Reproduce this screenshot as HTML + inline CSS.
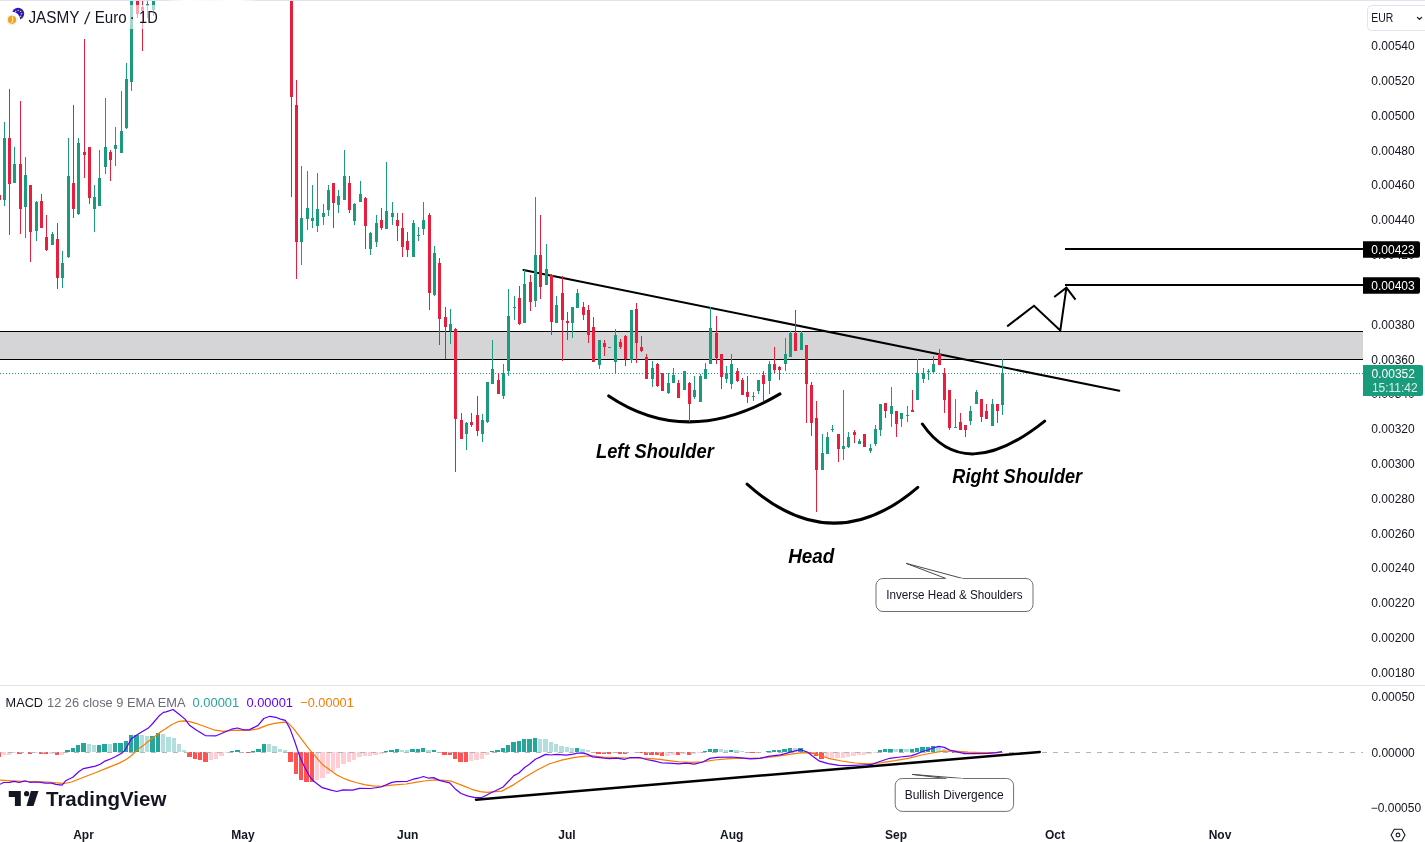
<!DOCTYPE html><html><head><meta charset="utf-8"><title>JASMY / Euro</title><style>
html,body{margin:0;padding:0;background:#fff;width:1425px;height:842px;overflow:hidden}
svg{display:block;position:absolute;left:0;top:0}
text{font-family:"Liberation Sans", Arial, sans-serif}
</style></head><body>
<svg width="1425" height="842" viewBox="0 0 1425 842">
<defs><clipPath id="mc"><rect x="0" y="1" width="1363" height="684"/></clipPath>
<clipPath id="pc"><rect x="0" y="686" width="1363" height="131"/></clipPath></defs>
<linearGradient id="tb" gradientUnits="userSpaceOnUse" x1="0" y1="0" x2="1425" y2="0"><stop offset="0.115" stop-color="#e0e3eb"/><stop offset="0.13" stop-color="#fff"/><stop offset="0.15" stop-color="#f7f8fa"/><stop offset="0.16" stop-color="#fff"/><stop offset="0.168" stop-color="#fff"/><stop offset="0.182" stop-color="#e0e3eb"/></linearGradient>
<rect x="0" y="0" width="1425" height="1" fill="url(#tb)"/>
<g clip-path="url(#mc)">
<rect x="0" y="331" width="1363" height="29" fill="#d5d5d8"/>
<rect x="0" y="331" width="1363" height="1" fill="#000"/>
<rect x="0" y="359" width="1363" height="1" fill="#000"/>
<line x1="0" y1="373.5" x2="1363" y2="373.5" stroke="#1a9b7b" stroke-width="1" stroke-dasharray="1 2"/>
<rect x="1065" y="248" width="298" height="2" fill="#000"/>
<rect x="1065" y="284" width="298" height="2" fill="#000"/>
<line x1="523.4" y1="270" x2="1119.3" y2="390.8" stroke="#000" stroke-width="2" stroke-linecap="round"/>
<polyline points="1007.2,326.4 1034,305.8 1060.3,330.4 1066.4,287.6" fill="none" stroke="#000" stroke-width="2" stroke-linejoin="miter"/>
<polyline points="1054.2,297 1066.4,287.6 1075.5,299.7" fill="none" stroke="#000" stroke-width="2"/>
<path d="M608.7 395.9 Q687.3 448.8 780 393.9" fill="none" stroke="#000" stroke-width="3" stroke-linecap="round"/>
<path d="M747.1 484.1 Q832.3 560.6 917.8 487.3" fill="none" stroke="#000" stroke-width="3" stroke-linecap="round"/>
<path d="M922.4 424 Q964.4 485.2 1044.7 421.1" fill="none" stroke="#000" stroke-width="3" stroke-linecap="round"/>
<g font-weight="bold" font-style="italic" font-size="20" fill="#000">
<text x="596" y="457.7" textLength="117.8" lengthAdjust="spacingAndGlyphs">Left Shoulder</text>
<text x="788.2" y="562.6" textLength="46.2" lengthAdjust="spacingAndGlyphs">Head</text>
<text x="952.3" y="482.6" textLength="129.8" lengthAdjust="spacingAndGlyphs">Right Shoulder</text>
</g>
<path d="M946 578.5 L906 563.3 L962.7 578.5" fill="none" stroke="#4a4a4a" stroke-width="1"/>
<path d="M962.7 578.5 H1026 a7 7 0 0 1 7 7 V604.5 a7 7 0 0 1 -7 7 H883 a7 7 0 0 1 -7 -7 V585.5 a7 7 0 0 1 7 -7 H946" fill="#fff" stroke="#707070" stroke-width="1"/>
<text x="886.3" y="598.7" font-size="12" textLength="136.3" lengthAdjust="spacingAndGlyphs" fill="#131722">Inverse Head &amp; Shoulders</text>
</g><g clip-path="url(#mc)" shape-rendering="crispEdges">
<rect x="-1" y="190" width="1" height="13" fill="#e91e3d"/>
<rect x="-2" y="195" width="3" height="5" fill="#e91e3d"/>
<rect x="4" y="121.8" width="1" height="84.3" fill="#1a9b7b"/>
<rect x="3" y="138" width="3" height="62.2" fill="#1a9b7b"/>
<rect x="9" y="89" width="1" height="146.4" fill="#e91e3d"/>
<rect x="8" y="138" width="3" height="46.3" fill="#e91e3d"/>
<rect x="14" y="147" width="1" height="35.8" fill="#1a9b7b"/>
<rect x="13" y="164" width="3" height="18.6" fill="#1a9b7b"/>
<rect x="20" y="101.4" width="1" height="132.9" fill="#e91e3d"/>
<rect x="19" y="164" width="3" height="45.1" fill="#e91e3d"/>
<rect x="25" y="157" width="1" height="80.5" fill="#1a9b7b"/>
<rect x="24" y="175.3" width="3" height="31.9" fill="#1a9b7b"/>
<rect x="30" y="185" width="1" height="77.3" fill="#e91e3d"/>
<rect x="29" y="185" width="3" height="46.6" fill="#e91e3d"/>
<rect x="36" y="201" width="1" height="40.4" fill="#1a9b7b"/>
<rect x="35" y="202" width="3" height="29.2" fill="#1a9b7b"/>
<rect x="41" y="194" width="1" height="34.3" fill="#e91e3d"/>
<rect x="40" y="201" width="3" height="27.1" fill="#e91e3d"/>
<rect x="46" y="215" width="1" height="35.5" fill="#e91e3d"/>
<rect x="45" y="236.7" width="3" height="13.6" fill="#e91e3d"/>
<rect x="52" y="232" width="1" height="13.3" fill="#1a9b7b"/>
<rect x="51" y="234" width="3" height="11.1" fill="#1a9b7b"/>
<rect x="57" y="222.8" width="1" height="66.4" fill="#e91e3d"/>
<rect x="56" y="238.7" width="3" height="39.5" fill="#e91e3d"/>
<rect x="62" y="251" width="1" height="37.4" fill="#1a9b7b"/>
<rect x="61" y="262.8" width="3" height="15.4" fill="#1a9b7b"/>
<rect x="68" y="138" width="1" height="119.6" fill="#1a9b7b"/>
<rect x="67" y="175.8" width="3" height="81.6" fill="#1a9b7b"/>
<rect x="73" y="105.3" width="1" height="113.1" fill="#e91e3d"/>
<rect x="72" y="183" width="3" height="26.1" fill="#e91e3d"/>
<rect x="78" y="138" width="1" height="76.5" fill="#1a9b7b"/>
<rect x="77" y="142.7" width="3" height="71.6" fill="#1a9b7b"/>
<rect x="84" y="38.8" width="1" height="139.4" fill="#e91e3d"/>
<rect x="83" y="151.8" width="3" height="3.2" fill="#e91e3d"/>
<rect x="89" y="147" width="1" height="56.8" fill="#e91e3d"/>
<rect x="88" y="147" width="3" height="51.1" fill="#e91e3d"/>
<rect x="94" y="185" width="1" height="47.2" fill="#1a9b7b"/>
<rect x="93" y="197" width="3" height="12.1" fill="#1a9b7b"/>
<rect x="99" y="150" width="1" height="55.8" fill="#1a9b7b"/>
<rect x="98" y="178" width="3" height="27.6" fill="#1a9b7b"/>
<rect x="105" y="98.3" width="1" height="75.2" fill="#1a9b7b"/>
<rect x="104" y="147" width="3" height="20.3" fill="#1a9b7b"/>
<rect x="110" y="150" width="1" height="30.5" fill="#e91e3d"/>
<rect x="109" y="151.8" width="3" height="8.4" fill="#e91e3d"/>
<rect x="115" y="127" width="1" height="39.4" fill="#1a9b7b"/>
<rect x="114" y="144.8" width="3" height="4.2" fill="#1a9b7b"/>
<rect x="121" y="91" width="1" height="62.4" fill="#1a9b7b"/>
<rect x="120" y="131" width="3" height="22.2" fill="#1a9b7b"/>
<rect x="126" y="63" width="1" height="65.5" fill="#1a9b7b"/>
<rect x="125" y="79" width="3" height="49.3" fill="#1a9b7b"/>
<rect x="131" y="-5" width="1" height="95.7" fill="#1a9b7b"/>
<rect x="130" y="-5" width="3" height="87.3" fill="#1a9b7b"/>
<rect x="137" y="-5" width="1" height="22.9" fill="#e91e3d"/>
<rect x="136" y="-5" width="3" height="18.7" fill="#e91e3d"/>
<rect x="142" y="-5" width="1" height="55.7" fill="#e91e3d"/>
<rect x="141" y="7.2" width="3" height="4.1" fill="#e91e3d"/>
<rect x="147" y="-5" width="1" height="22.9" fill="#1a9b7b"/>
<rect x="146" y="4.2" width="3" height="1.8" fill="#1a9b7b"/>
<rect x="153" y="-5" width="1" height="20.5" fill="#1a9b7b"/>
<rect x="152" y="-5" width="3" height="14.5" fill="#1a9b7b"/>
<rect x="291" y="-5" width="1" height="201.8" fill="#e91e3d"/>
<rect x="290" y="-5" width="3" height="102" fill="#e91e3d"/>
<rect x="296" y="80" width="1" height="199.3" fill="#e91e3d"/>
<rect x="295" y="104.8" width="3" height="137.4" fill="#e91e3d"/>
<rect x="301" y="166" width="1" height="99" fill="#1a9b7b"/>
<rect x="300" y="218.3" width="3" height="23.9" fill="#1a9b7b"/>
<rect x="307" y="171.2" width="1" height="59" fill="#1a9b7b"/>
<rect x="306" y="208.3" width="3" height="11.1" fill="#1a9b7b"/>
<rect x="312" y="185" width="1" height="42.9" fill="#1a9b7b"/>
<rect x="311" y="217.7" width="3" height="3.4" fill="#1a9b7b"/>
<rect x="317" y="173.2" width="1" height="59" fill="#1a9b7b"/>
<rect x="316" y="208.9" width="3" height="17" fill="#1a9b7b"/>
<rect x="323" y="204" width="1" height="21.1" fill="#1a9b7b"/>
<rect x="322" y="213.2" width="3" height="4.2" fill="#1a9b7b"/>
<rect x="328" y="185" width="1" height="30.9" fill="#1a9b7b"/>
<rect x="327" y="190.3" width="3" height="19.9" fill="#1a9b7b"/>
<rect x="333" y="183.2" width="1" height="44.7" fill="#e91e3d"/>
<rect x="332" y="183.2" width="3" height="19.9" fill="#e91e3d"/>
<rect x="338" y="190.3" width="1" height="22.8" fill="#1a9b7b"/>
<rect x="337" y="195.5" width="3" height="9.6" fill="#1a9b7b"/>
<rect x="344" y="150.4" width="1" height="49.9" fill="#1a9b7b"/>
<rect x="343" y="176" width="3" height="24.3" fill="#1a9b7b"/>
<rect x="349" y="176" width="1" height="37.1" fill="#e91e3d"/>
<rect x="348" y="183.2" width="3" height="27" fill="#e91e3d"/>
<rect x="354" y="202.6" width="1" height="22.5" fill="#1a9b7b"/>
<rect x="353" y="204" width="3" height="17.1" fill="#1a9b7b"/>
<rect x="360" y="181.2" width="1" height="21.1" fill="#1a9b7b"/>
<rect x="359" y="194" width="3" height="8.3" fill="#1a9b7b"/>
<rect x="365" y="196.9" width="1" height="52.4" fill="#e91e3d"/>
<rect x="364" y="198.3" width="3" height="27.6" fill="#e91e3d"/>
<rect x="370" y="232" width="1" height="23.3" fill="#1a9b7b"/>
<rect x="369" y="232.6" width="3" height="16.7" fill="#1a9b7b"/>
<rect x="376" y="215.4" width="1" height="31.1" fill="#1a9b7b"/>
<rect x="375" y="223.1" width="3" height="19.1" fill="#1a9b7b"/>
<rect x="381" y="208.3" width="1" height="21.9" fill="#e91e3d"/>
<rect x="380" y="220.3" width="3" height="7.9" fill="#e91e3d"/>
<rect x="386" y="161.8" width="1" height="67" fill="#1a9b7b"/>
<rect x="385" y="211.2" width="3" height="17.6" fill="#1a9b7b"/>
<rect x="392" y="202" width="1" height="23.1" fill="#1a9b7b"/>
<rect x="391" y="213.2" width="3" height="4.2" fill="#1a9b7b"/>
<rect x="397" y="213.2" width="1" height="27.8" fill="#e91e3d"/>
<rect x="396" y="220.3" width="3" height="5.6" fill="#e91e3d"/>
<rect x="402" y="213.2" width="1" height="43.3" fill="#e91e3d"/>
<rect x="401" y="228.3" width="3" height="19" fill="#e91e3d"/>
<rect x="407" y="232" width="1" height="24.5" fill="#e91e3d"/>
<rect x="406" y="241.1" width="3" height="9.1" fill="#e91e3d"/>
<rect x="413" y="220.3" width="1" height="36.2" fill="#1a9b7b"/>
<rect x="412" y="223.1" width="3" height="33.4" fill="#1a9b7b"/>
<rect x="418" y="227.4" width="1" height="13.6" fill="#1a9b7b"/>
<rect x="417" y="234.8" width="3" height="1.2" fill="#1a9b7b"/>
<rect x="423" y="202" width="1" height="33.1" fill="#1a9b7b"/>
<rect x="422" y="220.3" width="3" height="8.5" fill="#1a9b7b"/>
<rect x="429" y="213.2" width="1" height="96.3" fill="#e91e3d"/>
<rect x="428" y="215.4" width="3" height="77.1" fill="#e91e3d"/>
<rect x="434" y="246.2" width="1" height="50" fill="#1a9b7b"/>
<rect x="433" y="253.1" width="3" height="41.7" fill="#1a9b7b"/>
<rect x="439" y="258.2" width="1" height="86.9" fill="#e91e3d"/>
<rect x="438" y="262.8" width="3" height="55.7" fill="#e91e3d"/>
<rect x="445" y="307.1" width="1" height="52" fill="#e91e3d"/>
<rect x="444" y="316.9" width="3" height="10.5" fill="#e91e3d"/>
<rect x="450" y="309.2" width="1" height="34.4" fill="#1a9b7b"/>
<rect x="449" y="324" width="3" height="7.3" fill="#1a9b7b"/>
<rect x="455" y="327.9" width="1" height="143.9" fill="#e91e3d"/>
<rect x="454" y="328.5" width="3" height="90.9" fill="#e91e3d"/>
<rect x="461" y="413.3" width="1" height="25.4" fill="#e91e3d"/>
<rect x="460" y="419.9" width="3" height="18.8" fill="#e91e3d"/>
<rect x="466" y="422.2" width="1" height="28.2" fill="#1a9b7b"/>
<rect x="465" y="423.4" width="3" height="10.2" fill="#1a9b7b"/>
<rect x="471" y="413.3" width="1" height="14" fill="#e91e3d"/>
<rect x="470" y="422.2" width="3" height="3.1" fill="#e91e3d"/>
<rect x="477" y="396.1" width="1" height="39.5" fill="#e91e3d"/>
<rect x="476" y="415.4" width="3" height="15.8" fill="#e91e3d"/>
<rect x="482" y="413.9" width="1" height="27.6" fill="#1a9b7b"/>
<rect x="481" y="419.9" width="3" height="13.7" fill="#1a9b7b"/>
<rect x="487" y="381.9" width="1" height="41.2" fill="#1a9b7b"/>
<rect x="486" y="381.9" width="3" height="39.8" fill="#1a9b7b"/>
<rect x="492" y="339.8" width="1" height="44.6" fill="#1a9b7b"/>
<rect x="491" y="368.5" width="3" height="15.9" fill="#1a9b7b"/>
<rect x="498" y="373.3" width="1" height="20.3" fill="#e91e3d"/>
<rect x="497" y="379.8" width="3" height="13.8" fill="#e91e3d"/>
<rect x="503" y="364.1" width="1" height="35.3" fill="#1a9b7b"/>
<rect x="502" y="373.3" width="3" height="22.3" fill="#1a9b7b"/>
<rect x="508" y="288.7" width="1" height="87.6" fill="#1a9b7b"/>
<rect x="507" y="316" width="3" height="55" fill="#1a9b7b"/>
<rect x="514" y="296" width="1" height="23.9" fill="#1a9b7b"/>
<rect x="513" y="306.5" width="3" height="1.2" fill="#1a9b7b"/>
<rect x="519" y="286.3" width="1" height="38.5" fill="#e91e3d"/>
<rect x="518" y="297.8" width="3" height="26.2" fill="#e91e3d"/>
<rect x="524" y="269.5" width="1" height="53" fill="#1a9b7b"/>
<rect x="523" y="284" width="3" height="38.5" fill="#1a9b7b"/>
<rect x="530" y="275.1" width="1" height="35.4" fill="#e91e3d"/>
<rect x="529" y="282.1" width="3" height="19.7" fill="#e91e3d"/>
<rect x="535" y="196.9" width="1" height="110" fill="#1a9b7b"/>
<rect x="534" y="255.1" width="3" height="46.2" fill="#1a9b7b"/>
<rect x="540" y="215" width="1" height="83.7" fill="#e91e3d"/>
<rect x="539" y="255.1" width="3" height="32.2" fill="#e91e3d"/>
<rect x="546" y="244" width="1" height="41.2" fill="#1a9b7b"/>
<rect x="545" y="269.3" width="3" height="15.9" fill="#1a9b7b"/>
<rect x="551" y="274.1" width="1" height="60.8" fill="#e91e3d"/>
<rect x="550" y="274.7" width="3" height="47.4" fill="#e91e3d"/>
<rect x="556" y="296.1" width="1" height="27.1" fill="#1a9b7b"/>
<rect x="555" y="305.4" width="3" height="17.8" fill="#1a9b7b"/>
<rect x="562" y="276.4" width="1" height="84.5" fill="#e91e3d"/>
<rect x="561" y="292.7" width="3" height="27.7" fill="#e91e3d"/>
<rect x="567" y="312" width="1" height="28" fill="#e91e3d"/>
<rect x="566" y="320.9" width="3" height="1.8" fill="#e91e3d"/>
<rect x="572" y="307" width="1" height="31.1" fill="#1a9b7b"/>
<rect x="571" y="307" width="3" height="16.4" fill="#1a9b7b"/>
<rect x="577" y="289.2" width="1" height="18.8" fill="#1a9b7b"/>
<rect x="576" y="292.7" width="3" height="15.3" fill="#1a9b7b"/>
<rect x="583" y="301.6" width="1" height="18.1" fill="#e91e3d"/>
<rect x="582" y="307" width="3" height="8.1" fill="#e91e3d"/>
<rect x="588" y="305.2" width="1" height="37.4" fill="#e91e3d"/>
<rect x="587" y="309.6" width="3" height="25.1" fill="#e91e3d"/>
<rect x="593" y="317.1" width="1" height="44.9" fill="#e91e3d"/>
<rect x="592" y="327.4" width="3" height="34.6" fill="#e91e3d"/>
<rect x="599" y="339.6" width="1" height="29.7" fill="#1a9b7b"/>
<rect x="598" y="340.2" width="3" height="24.7" fill="#1a9b7b"/>
<rect x="604" y="339.6" width="1" height="16.3" fill="#e91e3d"/>
<rect x="603" y="342.6" width="3" height="3.9" fill="#e91e3d"/>
<rect x="609" y="347" width="1" height="1" fill="#1a9b7b"/>
<rect x="608" y="347" width="3" height="1" fill="#1a9b7b"/>
<rect x="615" y="328.9" width="1" height="44.8" fill="#1a9b7b"/>
<rect x="614" y="334.9" width="3" height="27.1" fill="#1a9b7b"/>
<rect x="620" y="338.7" width="1" height="10.7" fill="#e91e3d"/>
<rect x="619" y="341.7" width="3" height="4.8" fill="#e91e3d"/>
<rect x="625" y="335.1" width="1" height="30.6" fill="#e91e3d"/>
<rect x="624" y="335.7" width="3" height="23.3" fill="#e91e3d"/>
<rect x="631" y="309.6" width="1" height="53.1" fill="#1a9b7b"/>
<rect x="630" y="309.9" width="3" height="49.6" fill="#1a9b7b"/>
<rect x="636" y="303" width="1" height="60.4" fill="#e91e3d"/>
<rect x="635" y="309.1" width="3" height="34.3" fill="#e91e3d"/>
<rect x="641" y="336" width="1" height="15.5" fill="#e91e3d"/>
<rect x="640" y="347" width="3" height="4" fill="#e91e3d"/>
<rect x="646" y="354.2" width="1" height="25" fill="#e91e3d"/>
<rect x="645" y="357" width="3" height="22.2" fill="#e91e3d"/>
<rect x="652" y="361.2" width="1" height="25.6" fill="#1a9b7b"/>
<rect x="651" y="367.8" width="3" height="11.2" fill="#1a9b7b"/>
<rect x="657" y="362.9" width="1" height="23.9" fill="#e91e3d"/>
<rect x="656" y="363.7" width="3" height="22.4" fill="#e91e3d"/>
<rect x="662" y="372.8" width="1" height="17.8" fill="#e91e3d"/>
<rect x="661" y="373.2" width="3" height="17.4" fill="#e91e3d"/>
<rect x="668" y="372.8" width="1" height="21.2" fill="#1a9b7b"/>
<rect x="667" y="383.1" width="3" height="10" fill="#1a9b7b"/>
<rect x="673" y="367.8" width="1" height="15.3" fill="#1a9b7b"/>
<rect x="672" y="374.8" width="3" height="8.3" fill="#1a9b7b"/>
<rect x="678" y="380.2" width="1" height="17.6" fill="#e91e3d"/>
<rect x="677" y="382.8" width="3" height="15" fill="#e91e3d"/>
<rect x="684" y="371.2" width="1" height="18.6" fill="#1a9b7b"/>
<rect x="683" y="371.2" width="3" height="18.6" fill="#1a9b7b"/>
<rect x="689" y="381.8" width="1" height="39.9" fill="#e91e3d"/>
<rect x="688" y="383.1" width="3" height="20.8" fill="#e91e3d"/>
<rect x="694" y="376.2" width="1" height="22.8" fill="#1a9b7b"/>
<rect x="693" y="390.1" width="3" height="6.9" fill="#1a9b7b"/>
<rect x="700" y="373.7" width="1" height="28.1" fill="#1a9b7b"/>
<rect x="699" y="375.7" width="3" height="26.1" fill="#1a9b7b"/>
<rect x="705" y="362.9" width="1" height="16.1" fill="#1a9b7b"/>
<rect x="704" y="369" width="3" height="10" fill="#1a9b7b"/>
<rect x="710" y="307" width="1" height="56.7" fill="#1a9b7b"/>
<rect x="709" y="328.3" width="3" height="35.4" fill="#1a9b7b"/>
<rect x="716" y="315.8" width="1" height="47.9" fill="#e91e3d"/>
<rect x="715" y="332.9" width="3" height="25" fill="#e91e3d"/>
<rect x="721" y="354" width="1" height="34.6" fill="#e91e3d"/>
<rect x="720" y="354" width="3" height="22.8" fill="#e91e3d"/>
<rect x="726" y="366.2" width="1" height="16.6" fill="#1a9b7b"/>
<rect x="725" y="373.2" width="3" height="5.3" fill="#1a9b7b"/>
<rect x="731" y="354" width="1" height="34.6" fill="#1a9b7b"/>
<rect x="730" y="364" width="3" height="20" fill="#1a9b7b"/>
<rect x="737" y="368.2" width="1" height="13.6" fill="#e91e3d"/>
<rect x="736" y="370.7" width="3" height="10.5" fill="#e91e3d"/>
<rect x="742" y="378.2" width="1" height="16.6" fill="#e91e3d"/>
<rect x="741" y="379.8" width="3" height="15" fill="#e91e3d"/>
<rect x="747" y="376.2" width="1" height="26.6" fill="#e91e3d"/>
<rect x="746" y="392.3" width="3" height="4.5" fill="#e91e3d"/>
<rect x="753" y="392.3" width="1" height="8.3" fill="#1a9b7b"/>
<rect x="752" y="396" width="3" height="1.3" fill="#1a9b7b"/>
<rect x="758" y="380.2" width="1" height="13.8" fill="#1a9b7b"/>
<rect x="757" y="380.2" width="3" height="10.4" fill="#1a9b7b"/>
<rect x="763" y="371.2" width="1" height="29.9" fill="#e91e3d"/>
<rect x="762" y="374.8" width="3" height="9.2" fill="#e91e3d"/>
<rect x="769" y="361.2" width="1" height="32.8" fill="#1a9b7b"/>
<rect x="768" y="364" width="3" height="16.7" fill="#1a9b7b"/>
<rect x="774" y="346.9" width="1" height="26.3" fill="#e91e3d"/>
<rect x="773" y="364" width="3" height="5.8" fill="#e91e3d"/>
<rect x="779" y="366.2" width="1" height="13.6" fill="#e91e3d"/>
<rect x="778" y="367.3" width="3" height="2.2" fill="#e91e3d"/>
<rect x="785" y="338" width="1" height="32.6" fill="#1a9b7b"/>
<rect x="784" y="354" width="3" height="9.6" fill="#1a9b7b"/>
<rect x="790" y="331" width="1" height="25.8" fill="#1a9b7b"/>
<rect x="789" y="332.7" width="3" height="24.1" fill="#1a9b7b"/>
<rect x="795" y="310" width="1" height="40.5" fill="#e91e3d"/>
<rect x="794" y="332.7" width="3" height="17.8" fill="#e91e3d"/>
<rect x="801" y="330.8" width="1" height="19.6" fill="#1a9b7b"/>
<rect x="800" y="332.6" width="3" height="17.8" fill="#1a9b7b"/>
<rect x="806" y="344.9" width="1" height="77.8" fill="#e91e3d"/>
<rect x="805" y="344.9" width="3" height="38.8" fill="#e91e3d"/>
<rect x="811" y="381.9" width="1" height="53.9" fill="#e91e3d"/>
<rect x="810" y="384.8" width="3" height="37.9" fill="#e91e3d"/>
<rect x="816" y="401.3" width="1" height="110.2" fill="#e91e3d"/>
<rect x="815" y="418" width="3" height="51.8" fill="#e91e3d"/>
<rect x="822" y="434" width="1" height="36.3" fill="#1a9b7b"/>
<rect x="821" y="453.2" width="3" height="17.1" fill="#1a9b7b"/>
<rect x="827" y="432" width="1" height="21.7" fill="#1a9b7b"/>
<rect x="826" y="437.2" width="3" height="16.5" fill="#1a9b7b"/>
<rect x="832" y="425.1" width="1" height="6.7" fill="#1a9b7b"/>
<rect x="831" y="428.6" width="3" height="1.6" fill="#1a9b7b"/>
<rect x="838" y="434.2" width="1" height="27.5" fill="#e91e3d"/>
<rect x="837" y="434.2" width="3" height="14.7" fill="#e91e3d"/>
<rect x="843" y="390.2" width="1" height="69.4" fill="#1a9b7b"/>
<rect x="842" y="446" width="3" height="2.9" fill="#1a9b7b"/>
<rect x="848" y="432" width="1" height="15.9" fill="#1a9b7b"/>
<rect x="847" y="437.2" width="3" height="9.9" fill="#1a9b7b"/>
<rect x="854" y="430" width="1" height="12.8" fill="#e91e3d"/>
<rect x="853" y="432" width="3" height="2.7" fill="#e91e3d"/>
<rect x="859" y="439" width="1" height="4.8" fill="#1a9b7b"/>
<rect x="858" y="441.1" width="3" height="2.7" fill="#1a9b7b"/>
<rect x="864" y="434.2" width="1" height="12.6" fill="#e91e3d"/>
<rect x="863" y="434.2" width="3" height="12.6" fill="#e91e3d"/>
<rect x="870" y="444.1" width="1" height="8.8" fill="#1a9b7b"/>
<rect x="869" y="447.9" width="3" height="3.2" fill="#1a9b7b"/>
<rect x="875" y="425.1" width="1" height="20.8" fill="#1a9b7b"/>
<rect x="874" y="428.9" width="3" height="15" fill="#1a9b7b"/>
<rect x="880" y="404" width="1" height="31.8" fill="#1a9b7b"/>
<rect x="879" y="404" width="3" height="25.7" fill="#1a9b7b"/>
<rect x="885" y="402.8" width="1" height="15.1" fill="#e91e3d"/>
<rect x="884" y="403" width="3" height="7.8" fill="#e91e3d"/>
<rect x="891" y="387" width="1" height="39.8" fill="#1a9b7b"/>
<rect x="890" y="406" width="3" height="8" fill="#1a9b7b"/>
<rect x="896" y="411" width="1" height="25.8" fill="#e91e3d"/>
<rect x="895" y="411" width="3" height="12.8" fill="#e91e3d"/>
<rect x="901" y="412.8" width="1" height="14" fill="#1a9b7b"/>
<rect x="900" y="413.1" width="3" height="5.6" fill="#1a9b7b"/>
<rect x="907" y="406" width="1" height="15.9" fill="#1a9b7b"/>
<rect x="906" y="414.5" width="3" height="1" fill="#1a9b7b"/>
<rect x="912" y="390.2" width="1" height="21.6" fill="#e91e3d"/>
<rect x="911" y="410.2" width="3" height="1.6" fill="#e91e3d"/>
<rect x="917" y="359.3" width="1" height="40.3" fill="#1a9b7b"/>
<rect x="916" y="373.3" width="3" height="26.3" fill="#1a9b7b"/>
<rect x="923" y="368.2" width="1" height="14.6" fill="#1a9b7b"/>
<rect x="922" y="373.1" width="3" height="5.7" fill="#1a9b7b"/>
<rect x="928" y="369.2" width="1" height="10.4" fill="#1a9b7b"/>
<rect x="927" y="370.8" width="3" height="1" fill="#1a9b7b"/>
<rect x="933" y="356.1" width="1" height="17.4" fill="#1a9b7b"/>
<rect x="932" y="364.2" width="3" height="7.6" fill="#1a9b7b"/>
<rect x="939" y="349" width="1" height="15.6" fill="#e91e3d"/>
<rect x="938" y="354" width="3" height="10.6" fill="#e91e3d"/>
<rect x="944" y="368.2" width="1" height="44.5" fill="#e91e3d"/>
<rect x="943" y="373.2" width="3" height="26.7" fill="#e91e3d"/>
<rect x="949" y="390.2" width="1" height="39.3" fill="#e91e3d"/>
<rect x="948" y="390.2" width="3" height="37.9" fill="#e91e3d"/>
<rect x="955" y="399.1" width="1" height="29" fill="#1a9b7b"/>
<rect x="954" y="427" width="3" height="1.1" fill="#1a9b7b"/>
<rect x="960" y="413.1" width="1" height="16.7" fill="#e91e3d"/>
<rect x="959" y="422" width="3" height="7.8" fill="#e91e3d"/>
<rect x="965" y="425.2" width="1" height="11.4" fill="#e91e3d"/>
<rect x="964" y="425.2" width="3" height="4.3" fill="#e91e3d"/>
<rect x="970" y="406.3" width="1" height="18.5" fill="#1a9b7b"/>
<rect x="969" y="411" width="3" height="9.8" fill="#1a9b7b"/>
<rect x="976" y="390.2" width="1" height="13.7" fill="#1a9b7b"/>
<rect x="975" y="392" width="3" height="11.9" fill="#1a9b7b"/>
<rect x="981" y="399.1" width="1" height="22.9" fill="#e91e3d"/>
<rect x="980" y="399.1" width="3" height="17.6" fill="#e91e3d"/>
<rect x="986" y="404.1" width="1" height="14.6" fill="#e91e3d"/>
<rect x="985" y="411" width="3" height="7.7" fill="#e91e3d"/>
<rect x="992" y="399.1" width="1" height="26.7" fill="#1a9b7b"/>
<rect x="991" y="404.1" width="3" height="21.7" fill="#1a9b7b"/>
<rect x="997" y="404.1" width="1" height="18.9" fill="#e91e3d"/>
<rect x="996" y="404.1" width="3" height="6.5" fill="#e91e3d"/>
<rect x="1002" y="359.2" width="1" height="55.6" fill="#1a9b7b"/>
<rect x="1001" y="373.1" width="3" height="31.5" fill="#1a9b7b"/>
</g>
<rect x="0" y="5" width="161" height="24" fill="#fff" fill-opacity="0.6"/>
<g>
<mask id="bite"><rect x="0" y="0" width="40" height="40" fill="#fff"/><circle cx="12" cy="19.8" r="8.1" fill="#000"/></mask>
<g mask="url(#bite)"><circle cx="18.1" cy="13.8" r="6.1" fill="#2d18c8"/>
<circle cx="21.55" cy="13.80" r="0.7" fill="#ffe81a"/>
<circle cx="20.54" cy="16.24" r="0.7" fill="#ffe81a"/>
<circle cx="18.10" cy="17.25" r="0.7" fill="#ffe81a"/>
<circle cx="15.66" cy="16.24" r="0.7" fill="#ffe81a"/>
<circle cx="14.65" cy="13.80" r="0.7" fill="#ffe81a"/>
<circle cx="15.66" cy="11.36" r="0.7" fill="#ffe81a"/>
<circle cx="18.10" cy="10.35" r="0.7" fill="#ffe81a"/>
<circle cx="20.54" cy="11.36" r="0.7" fill="#ffe81a"/>
</g>
<circle cx="12" cy="19.8" r="5.9" fill="#eef0fc"/>
<circle cx="12" cy="19.8" r="4.1" fill="#f2a516"/>
<path d="M12.6 16.6 V21.4 Q12.4 23 10.9 22.8" fill="none" stroke="#fff" stroke-width="0.8"/>
</g>
<g font-size="16" fill="#131722"><text x="28.4" y="22.7" textLength="51.1" lengthAdjust="spacingAndGlyphs">JASMY</text><text transform="translate(83.9 23.9) skewX(-8)" font-size="17">/</text><text x="94.8" y="22.7" textLength="31.9" lengthAdjust="spacingAndGlyphs">Euro</text><text x="129.4" y="22.7">·</text><text x="139" y="22.7" textLength="18.7" lengthAdjust="spacingAndGlyphs">1D</text></g>
<rect x="1367.5" y="5.5" width="62" height="25" rx="4" fill="#fff" stroke="#e0e3eb"/>
<text x="1371.2" y="21.7" font-size="12" textLength="22" lengthAdjust="spacingAndGlyphs" fill="#131722">EUR</text>
<path d="M1417.4 17.4 l2.1 2 l2.1 -2" fill="none" stroke="#131722" stroke-width="1.3" stroke-linecap="round" stroke-linejoin="round"/>
<text x="1371.3" y="49.6" font-size="12" fill="#131722">0.00540</text>
<text x="1371.3" y="84.5" font-size="12" fill="#131722">0.00520</text>
<text x="1371.3" y="120.3" font-size="12" fill="#131722">0.00500</text>
<text x="1371.3" y="155.2" font-size="12" fill="#131722">0.00480</text>
<text x="1371.3" y="189.0" font-size="12" fill="#131722">0.00460</text>
<text x="1371.3" y="223.9" font-size="12" fill="#131722">0.00440</text>
<text x="1371.3" y="258.8" font-size="12" fill="#131722">0.00420</text>
<text x="1371.3" y="328.5" font-size="12" fill="#131722">0.00380</text>
<text x="1371.3" y="364.3" font-size="12" fill="#131722">0.00360</text>
<text x="1371.3" y="398.2" font-size="12" fill="#131722">0.00340</text>
<text x="1371.3" y="433.1" font-size="12" fill="#131722">0.00320</text>
<text x="1371.3" y="467.9" font-size="12" fill="#131722">0.00300</text>
<text x="1371.3" y="502.8" font-size="12" fill="#131722">0.00280</text>
<text x="1371.3" y="537.6" font-size="12" fill="#131722">0.00260</text>
<text x="1371.3" y="572.1" font-size="12" fill="#131722">0.00240</text>
<text x="1371.3" y="607.4" font-size="12" fill="#131722">0.00220</text>
<text x="1371.3" y="642.2" font-size="12" fill="#131722">0.00200</text>
<text x="1371.3" y="677.1" font-size="12" fill="#131722">0.00180</text>
<path d="M1363 241.2 H1418 a2 2 0 0 1 2 2 V255.8 a2 2 0 0 1 -2 2 H1363 Z" fill="#000"/>
<text x="1371.3" y="253.9" font-size="12" fill="#fff">0.00423</text>
<path d="M1363 277.3 H1418 a2 2 0 0 1 2 2 V291.7 a2 2 0 0 1 -2 2 H1363 Z" fill="#000"/>
<text x="1371.3" y="289.9" font-size="12" fill="#fff">0.00403</text>
<path d="M1363 365.1 H1421 a2 2 0 0 1 2 2 V394 a2 2 0 0 1 -2 2 H1363 Z" fill="#1a9b7b"/>
<text x="1371.6" y="377.9" font-size="12" fill="#fff">0.00352</text>
<text x="1371.9" y="391.8" font-size="12" fill="#fff" fill-opacity="0.85">15:11:42</text>
<rect x="0" y="685" width="1425" height="1" fill="#e0e3eb"/>
<g clip-path="url(#pc)">
<g shape-rendering="crispEdges">
<rect x="-4" y="752.4" width="5" height="5" fill="#ff5252"/>
<rect x="2" y="752.4" width="4" height="2.4" fill="#ffcdd2"/>
<rect x="7" y="752.4" width="4" height="2.4" fill="#ffcdd2"/>
<rect x="12" y="752.4" width="4" height="0.6" fill="#ffcdd2"/>
<rect x="17" y="752.4" width="5" height="1.5" fill="#ff5252"/>
<rect x="23" y="751.8" width="4" height="0.6" fill="#26a69a"/>
<rect x="28" y="752.4" width="4" height="1.5" fill="#ff5252"/>
<rect x="33" y="752.4" width="5" height="0.4" fill="#ffcdd2"/>
<rect x="39" y="752.4" width="4" height="1.5" fill="#ff5252"/>
<rect x="44" y="752.4" width="4" height="1.5" fill="#ff5252"/>
<rect x="49" y="752.4" width="5" height="1.5" fill="#ffcdd2"/>
<rect x="55" y="752.4" width="4" height="2.5" fill="#ff5252"/>
<rect x="60" y="752.4" width="4" height="2.5" fill="#ffcdd2"/>
<rect x="65" y="750.1" width="5" height="2.3" fill="#26a69a"/>
<rect x="71" y="748" width="4" height="4.4" fill="#26a69a"/>
<rect x="76" y="745" width="4" height="7.4" fill="#26a69a"/>
<rect x="81" y="742.9" width="5" height="9.5" fill="#26a69a"/>
<rect x="87" y="744" width="4" height="8.4" fill="#b2dfdb"/>
<rect x="92" y="745" width="4" height="7.4" fill="#b2dfdb"/>
<rect x="97" y="745" width="4" height="7.4" fill="#26a69a"/>
<rect x="102" y="744" width="5" height="8.4" fill="#26a69a"/>
<rect x="108" y="744" width="4" height="8.4" fill="#b2dfdb"/>
<rect x="113" y="742.9" width="4" height="9.5" fill="#26a69a"/>
<rect x="118" y="742.9" width="5" height="9.5" fill="#26a69a"/>
<rect x="124" y="740.8" width="4" height="11.6" fill="#26a69a"/>
<rect x="129" y="735.1" width="4" height="17.3" fill="#26a69a"/>
<rect x="134" y="735.1" width="5" height="17.3" fill="#26a69a"/>
<rect x="140" y="735.1" width="4" height="17.3" fill="#b2dfdb"/>
<rect x="145" y="736" width="4" height="16.4" fill="#b2dfdb"/>
<rect x="150" y="736" width="5" height="16.4" fill="#26a69a"/>
<rect x="156" y="733" width="4" height="19.4" fill="#26a69a"/>
<rect x="161" y="734.2" width="4" height="18.2" fill="#b2dfdb"/>
<rect x="166" y="737" width="5" height="15.4" fill="#b2dfdb"/>
<rect x="172" y="738" width="4" height="14.4" fill="#b2dfdb"/>
<rect x="177" y="744.1" width="4" height="8.3" fill="#b2dfdb"/>
<rect x="182" y="750.1" width="4" height="2.3" fill="#b2dfdb"/>
<rect x="187" y="752.4" width="5" height="4.5" fill="#ff5252"/>
<rect x="193" y="752.4" width="4" height="6.3" fill="#ff5252"/>
<rect x="198" y="752.4" width="4" height="7.3" fill="#ff5252"/>
<rect x="203" y="752.4" width="5" height="9.3" fill="#ff5252"/>
<rect x="209" y="752.4" width="4" height="7.3" fill="#ffcdd2"/>
<rect x="214" y="752.4" width="4" height="6.3" fill="#ffcdd2"/>
<rect x="219" y="752.4" width="5" height="3.3" fill="#ffcdd2"/>
<rect x="225" y="752.4" width="4" height="0.4" fill="#ffcdd2"/>
<rect x="230" y="751.1" width="4" height="1.3" fill="#26a69a"/>
<rect x="235" y="750.1" width="5" height="2.3" fill="#26a69a"/>
<rect x="241" y="752" width="4" height="0.4" fill="#b2dfdb"/>
<rect x="246" y="752.4" width="4" height="0.6" fill="#ff5252"/>
<rect x="251" y="751.1" width="4" height="1.3" fill="#26a69a"/>
<rect x="256" y="748.9" width="5" height="3.5" fill="#26a69a"/>
<rect x="262" y="744.1" width="4" height="8.3" fill="#26a69a"/>
<rect x="267" y="744.1" width="4" height="8.3" fill="#b2dfdb"/>
<rect x="272" y="745.9" width="5" height="6.5" fill="#b2dfdb"/>
<rect x="278" y="748.9" width="4" height="3.5" fill="#b2dfdb"/>
<rect x="283" y="750.1" width="4" height="2.3" fill="#b2dfdb"/>
<rect x="288" y="752.4" width="5" height="9.3" fill="#ff5252"/>
<rect x="294" y="752.4" width="4" height="21.2" fill="#ff5252"/>
<rect x="299" y="752.4" width="4" height="27.2" fill="#ff5252"/>
<rect x="304" y="752.4" width="5" height="29.3" fill="#ff5252"/>
<rect x="310" y="752.4" width="4" height="29.3" fill="#ff5252"/>
<rect x="315" y="752.4" width="4" height="27.2" fill="#ffcdd2"/>
<rect x="320" y="752.4" width="5" height="25.4" fill="#ffcdd2"/>
<rect x="326" y="752.4" width="4" height="21.3" fill="#ffcdd2"/>
<rect x="331" y="752.4" width="4" height="18.4" fill="#ffcdd2"/>
<rect x="336" y="752.4" width="4" height="15.5" fill="#ffcdd2"/>
<rect x="341" y="752.4" width="5" height="11.3" fill="#ffcdd2"/>
<rect x="347" y="752.4" width="4" height="9.5" fill="#ffcdd2"/>
<rect x="352" y="752.4" width="4" height="7.5" fill="#ffcdd2"/>
<rect x="357" y="752.4" width="5" height="4.4" fill="#ffcdd2"/>
<rect x="363" y="752.4" width="4" height="3.3" fill="#ffcdd2"/>
<rect x="368" y="752.4" width="4" height="3.3" fill="#ffcdd2"/>
<rect x="373" y="752.4" width="5" height="2.3" fill="#ffcdd2"/>
<rect x="379" y="752.4" width="4" height="1.4" fill="#ffcdd2"/>
<rect x="384" y="751.2" width="4" height="1.2" fill="#26a69a"/>
<rect x="389" y="750" width="5" height="2.4" fill="#26a69a"/>
<rect x="395" y="749" width="4" height="3.4" fill="#26a69a"/>
<rect x="400" y="750.2" width="4" height="2.2" fill="#b2dfdb"/>
<rect x="405" y="750.2" width="4" height="2.2" fill="#b2dfdb"/>
<rect x="410" y="749" width="5" height="3.4" fill="#26a69a"/>
<rect x="416" y="749" width="4" height="3.4" fill="#26a69a"/>
<rect x="421" y="747.9" width="4" height="4.5" fill="#26a69a"/>
<rect x="426" y="750" width="5" height="2.4" fill="#b2dfdb"/>
<rect x="432" y="750" width="4" height="2.4" fill="#26a69a"/>
<rect x="437" y="752" width="4" height="0.4" fill="#b2dfdb"/>
<rect x="442" y="752.4" width="5" height="2.3" fill="#ff5252"/>
<rect x="448" y="752.4" width="4" height="2.3" fill="#ff5252"/>
<rect x="453" y="752.4" width="4" height="6.5" fill="#ff5252"/>
<rect x="458" y="752.4" width="5" height="9.5" fill="#ff5252"/>
<rect x="464" y="752.4" width="4" height="9.5" fill="#ff5252"/>
<rect x="469" y="752.4" width="4" height="8.3" fill="#ffcdd2"/>
<rect x="474" y="752.4" width="5" height="7.5" fill="#ffcdd2"/>
<rect x="480" y="752.4" width="4" height="6.5" fill="#ffcdd2"/>
<rect x="485" y="752.4" width="4" height="2.3" fill="#ffcdd2"/>
<rect x="490" y="751.2" width="4" height="1.2" fill="#26a69a"/>
<rect x="495" y="750.2" width="5" height="2.2" fill="#26a69a"/>
<rect x="501" y="748.2" width="4" height="4.2" fill="#26a69a"/>
<rect x="506" y="745.2" width="4" height="7.2" fill="#26a69a"/>
<rect x="511" y="742.2" width="5" height="10.2" fill="#26a69a"/>
<rect x="517" y="741.3" width="4" height="11.1" fill="#26a69a"/>
<rect x="522" y="739.2" width="4" height="13.2" fill="#26a69a"/>
<rect x="527" y="739.2" width="5" height="13.2" fill="#26a69a"/>
<rect x="533" y="738.3" width="4" height="14.1" fill="#26a69a"/>
<rect x="538" y="739.2" width="4" height="13.2" fill="#b2dfdb"/>
<rect x="543" y="739.2" width="5" height="13.2" fill="#b2dfdb"/>
<rect x="549" y="742.2" width="4" height="10.2" fill="#b2dfdb"/>
<rect x="554" y="744.2" width="4" height="8.2" fill="#b2dfdb"/>
<rect x="559" y="746.1" width="5" height="6.3" fill="#b2dfdb"/>
<rect x="565" y="747.2" width="4" height="5.2" fill="#b2dfdb"/>
<rect x="570" y="748.2" width="4" height="4.2" fill="#b2dfdb"/>
<rect x="575" y="748.2" width="4" height="4.2" fill="#26a69a"/>
<rect x="580" y="749.1" width="5" height="3.3" fill="#b2dfdb"/>
<rect x="586" y="750.2" width="4" height="2.2" fill="#b2dfdb"/>
<rect x="591" y="752.4" width="4" height="0.6" fill="#ff5252"/>
<rect x="596" y="752.4" width="5" height="1.1" fill="#ff5252"/>
<rect x="602" y="752.4" width="4" height="1.1" fill="#ff5252"/>
<rect x="607" y="752.4" width="4" height="1.1" fill="#ff5252"/>
<rect x="612" y="752.4" width="5" height="0.8" fill="#ffcdd2"/>
<rect x="618" y="752.4" width="4" height="1.1" fill="#ff5252"/>
<rect x="623" y="752.4" width="4" height="1.1" fill="#ff5252"/>
<rect x="628" y="752" width="5" height="0.4" fill="#26a69a"/>
<rect x="634" y="752.4" width="4" height="0.3" fill="#ffcdd2"/>
<rect x="639" y="752.4" width="4" height="0.6" fill="#ff5252"/>
<rect x="644" y="752.4" width="4" height="2.3" fill="#ff5252"/>
<rect x="649" y="752.4" width="5" height="2.3" fill="#ff5252"/>
<rect x="655" y="752.4" width="4" height="2.3" fill="#ff5252"/>
<rect x="660" y="752.4" width="4" height="3.2" fill="#ff5252"/>
<rect x="665" y="752.4" width="5" height="3.2" fill="#ffcdd2"/>
<rect x="671" y="752.4" width="4" height="2.2" fill="#ffcdd2"/>
<rect x="676" y="752.4" width="4" height="2.2" fill="#ff5252"/>
<rect x="681" y="752.4" width="5" height="1.2" fill="#ffcdd2"/>
<rect x="687" y="752.4" width="4" height="2.2" fill="#ff5252"/>
<rect x="692" y="752.4" width="4" height="1.2" fill="#ffcdd2"/>
<rect x="697" y="752.4" width="5" height="0.4" fill="#ffcdd2"/>
<rect x="703" y="751.3" width="4" height="1.1" fill="#26a69a"/>
<rect x="708" y="749.2" width="4" height="3.2" fill="#26a69a"/>
<rect x="713" y="749.2" width="5" height="3.2" fill="#26a69a"/>
<rect x="719" y="749.2" width="4" height="3.2" fill="#b2dfdb"/>
<rect x="724" y="750.2" width="4" height="2.2" fill="#b2dfdb"/>
<rect x="729" y="750.2" width="4" height="2.2" fill="#26a69a"/>
<rect x="734" y="750.2" width="5" height="2.2" fill="#b2dfdb"/>
<rect x="740" y="751.3" width="4" height="1.1" fill="#b2dfdb"/>
<rect x="745" y="752.4" width="4" height="0.4" fill="#ff5252"/>
<rect x="750" y="752.4" width="5" height="0.4" fill="#ff5252"/>
<rect x="756" y="752" width="4" height="0.4" fill="#26a69a"/>
<rect x="761" y="752" width="4" height="0.4" fill="#26a69a"/>
<rect x="766" y="751.3" width="5" height="1.1" fill="#26a69a"/>
<rect x="772" y="750.2" width="4" height="2.2" fill="#26a69a"/>
<rect x="777" y="750.2" width="4" height="2.2" fill="#26a69a"/>
<rect x="782" y="749.2" width="5" height="3.2" fill="#26a69a"/>
<rect x="788" y="748.3" width="4" height="4.1" fill="#26a69a"/>
<rect x="793" y="748.3" width="4" height="4.1" fill="#b2dfdb"/>
<rect x="798" y="748.3" width="5" height="4.1" fill="#26a69a"/>
<rect x="804" y="751.1" width="4" height="1.3" fill="#b2dfdb"/>
<rect x="809" y="752.4" width="4" height="1.6" fill="#ff5252"/>
<rect x="814" y="752.4" width="4" height="4" fill="#ff5252"/>
<rect x="819" y="752.4" width="5" height="6.1" fill="#ff5252"/>
<rect x="825" y="752.4" width="4" height="5.3" fill="#ffcdd2"/>
<rect x="830" y="752.4" width="4" height="5.3" fill="#ffcdd2"/>
<rect x="835" y="752.4" width="5" height="5.3" fill="#ffcdd2"/>
<rect x="841" y="752.4" width="4" height="5.3" fill="#ffcdd2"/>
<rect x="846" y="752.4" width="4" height="4.3" fill="#ffcdd2"/>
<rect x="851" y="752.4" width="5" height="3.3" fill="#ffcdd2"/>
<rect x="857" y="752.4" width="4" height="2.2" fill="#ffcdd2"/>
<rect x="862" y="752.4" width="4" height="2.2" fill="#ffcdd2"/>
<rect x="867" y="752.4" width="5" height="1.3" fill="#ffcdd2"/>
<rect x="873" y="752.4" width="4" height="0.5" fill="#ffcdd2"/>
<rect x="878" y="750.3" width="4" height="2.1" fill="#26a69a"/>
<rect x="883" y="749.3" width="4" height="3.1" fill="#26a69a"/>
<rect x="888" y="749.3" width="5" height="3.1" fill="#26a69a"/>
<rect x="894" y="749.3" width="4" height="3.1" fill="#b2dfdb"/>
<rect x="899" y="749.3" width="4" height="3.1" fill="#26a69a"/>
<rect x="904" y="749.3" width="5" height="3.1" fill="#b2dfdb"/>
<rect x="910" y="749.3" width="4" height="3.1" fill="#26a69a"/>
<rect x="915" y="748.3" width="4" height="4.1" fill="#26a69a"/>
<rect x="920" y="747.3" width="5" height="5.1" fill="#26a69a"/>
<rect x="926" y="747.3" width="4" height="5.1" fill="#26a69a"/>
<rect x="931" y="746.3" width="4" height="6.1" fill="#26a69a"/>
<rect x="936" y="747.3" width="5" height="5.1" fill="#b2dfdb"/>
<rect x="942" y="749.3" width="4" height="3.1" fill="#b2dfdb"/>
<rect x="947" y="750.9" width="4" height="1.5" fill="#b2dfdb"/>
<rect x="952" y="752.4" width="5" height="0.4" fill="#ff5252"/>
<rect x="958" y="752.4" width="4" height="1" fill="#ff5252"/>
<rect x="963" y="752.4" width="4" height="1.9" fill="#ff5252"/>
<rect x="968" y="752.4" width="4" height="1.7" fill="#ffcdd2"/>
<rect x="973" y="752.4" width="5" height="1.2" fill="#ffcdd2"/>
<rect x="979" y="752.4" width="4" height="1" fill="#ffcdd2"/>
<rect x="984" y="752.4" width="4" height="1.2" fill="#ff5252"/>
<rect x="989" y="752.4" width="5" height="1" fill="#ffcdd2"/>
<rect x="995" y="752.4" width="4" height="0.5" fill="#ffcdd2"/>
<rect x="1000" y="751.6" width="4" height="0.8" fill="#26a69a"/>
</g>
<line x1="0" y1="752.5" x2="1363" y2="752.5" stroke="#b2b5be" stroke-width="1" stroke-dasharray="5 6" stroke-dashoffset="3"/>
<polyline points="0,780.2 12,780.8 23.9,781.4 35.8,781.6 47.7,782 59.7,783.1 64.4,783.5 71.6,782 83.5,777.2 95.4,772.8 107.4,767.9 119.3,763.1 126.5,759.3 131.2,755.7 137.2,750.1 143.2,745.6 149.1,740.8 155.1,736.3 161.1,731.5 166,728.6 171.9,724.5 177.9,721.7 183.9,720.9 189.8,721.7 195.8,723.3 205.3,726.8 213.7,729.8 223.2,731.3 231.6,730.4 243.5,730.1 249.5,730.4 257.8,728.9 267.4,725.1 274.5,723.3 284.1,722.1 287.7,722.7 293.6,728.6 300.8,738.2 307.9,747.7 315.1,756.1 322.3,764.4 331,770.8 336.9,775 342.9,778 348.9,780.4 356,782.5 364.4,784.6 372.7,785.8 381.1,786.4 391.8,785.2 406.1,784 415.7,782.4 424,781 434.8,779.8 444.3,780.4 451.5,781.2 462.2,785.4 471.7,789.3 480.1,791.7 487.3,792.3 495,791.7 501.9,791.1 513.9,784.6 525.8,776.8 537.7,769.7 549.7,763.7 561.6,760.1 573.5,757.7 585.4,756.2 592.6,755.9 603.3,757.1 615.3,757.5 627.2,758 639.1,758 651.1,758.7 660,759.3 666.9,760.3 678.9,761.8 690.8,762.4 702.7,761.8 714.7,760 726.6,758.8 738.5,758.2 750.4,758.4 762.4,757.9 774.3,756.7 786.2,754.8 798.2,753.2 807.7,752.6 816.1,754 828.3,758.3 841.7,761 855,763 868.3,763.9 881.7,762.6 895,760.7 908.3,758.3 921.7,755 932.3,753 941.7,751.4 955,751 968.3,752.1 981.7,752.6 995,752.7 1002,752.3" fill="none" stroke="#f57c00" stroke-width="1.2" stroke-linejoin="round"/>
<polyline points="0,784.3 3.6,782.5 9.5,782.3 14.3,781.4 19,782.5 25,780.8 29.8,782.3 35.8,782 40.6,782.3 45.3,783.1 51.3,783.1 56,784.3 62,785.2 65.6,780.8 72.8,777.2 78.7,771.8 83.5,768.6 89.5,767.3 95.4,766.1 100.2,764.3 105,761.1 111,758.7 115.7,756.5 121.7,753.3 125.3,749.7 131.2,739 136,735.4 142,731.8 148,728.3 152.7,723.5 158.7,716.3 163.4,712.4 166,711.9 173.1,709.5 179.1,714.3 185,719.1 189.8,725.6 197,730.4 205.3,735.6 216.1,735.8 224.4,732.2 231.6,729.2 237.5,728 243.5,729.8 249.5,729.6 257.8,725.6 263.8,718.5 269.8,716.3 275.7,717.3 280.5,719.1 285.3,720.3 290,728.6 294.8,741.8 299.6,756.1 304.4,766.8 310.3,777.5 315.1,782.3 322.3,787.7 331,790.2 336.9,791.5 342.9,789.9 352.4,790.2 359.6,788.4 370.3,788.5 381.1,787 391.8,782.4 396.6,781.6 407.3,781.3 413.3,779.2 418.1,778.2 423.4,776.5 428.8,778.2 433.6,777.6 439.5,780.4 444.3,781.6 449.7,782.8 455,788.7 461,793.5 468.2,796.1 475.3,797.7 481.3,797.7 487.3,794.7 490,793.2 496,790.5 503.1,787 513.9,775.6 518.6,773.2 524.6,767.5 529.4,764.3 535.3,759.2 540.1,757.1 545.5,754.4 550.8,755 556.8,754.4 566.4,755.1 573.5,754.1 577.1,753.2 583.1,753.2 587.8,754.4 592.6,756.9 599.8,757.7 609.3,758.7 616.5,758.1 624.8,759.3 629.6,757.7 640.3,757.7 646.3,759.5 652.3,760.7 655,761.2 662.2,763 669.3,763.2 678.9,763.9 686,763.2 694.4,764.1 702.7,762 709.9,758.4 717,757.3 731.4,757 738.5,757.6 750.4,758.8 760,758.4 768.3,756.4 780.3,754.8 786.2,753.4 791,751.9 800.5,749.6 807.7,752.2 813.7,757 819.6,761.2 828.3,763.7 839,765.3 848.3,765.7 861.7,765 872.3,764.3 879,761.7 889.7,758.3 900.3,757 911,755.9 916.3,754.1 921.7,751.7 928.3,749.7 935,747.4 939,746.3 944.3,747.4 949.7,750.1 956.3,751.7 964.3,753.7 975,753.7 988.3,753.3 996.3,752.7 1002,751.7" fill="none" stroke="#6200ff" stroke-width="1.2" stroke-linejoin="round"/>
<line x1="476" y1="799.7" x2="1039.8" y2="752" stroke="#000" stroke-width="2.5" stroke-linecap="round"/>
<path d="M946.3 778.5 L912.2 774.4 L962.7 778.5" fill="none" stroke="#4a4a4a" stroke-width="1"/>
<path d="M962.7 778.5 H1006.6 a7 7 0 0 1 7 7 V804.4 a7 7 0 0 1 -7 7 H902.2 a7 7 0 0 1 -7 -7 V785.5 a7 7 0 0 1 7 -7 H946.3" fill="#fff" stroke="#707070" stroke-width="1"/>
<text x="904.7" y="798.7" font-size="12" textLength="99" lengthAdjust="spacingAndGlyphs" fill="#131722">Bullish Divergence</text>
</g>
<g font-size="13"><text x="5.6" y="707.2" textLength="37.4" lengthAdjust="spacingAndGlyphs" fill="#131722">MACD</text><text x="47" y="707.2" textLength="138.6" lengthAdjust="spacingAndGlyphs" fill="#6a6d78">12 26 close 9 EMA EMA</text><text x="192.6" y="707.2" textLength="46.6" lengthAdjust="spacingAndGlyphs" fill="#26a69a">0.00001</text><text x="246.4" y="707.2" textLength="46.6" lengthAdjust="spacingAndGlyphs" fill="#6200ff">0.00001</text><text x="300.2" y="707.2" textLength="53.6" lengthAdjust="spacingAndGlyphs" fill="#f57c00">−0.00001</text></g>
<text x="1371.4" y="701.1" font-size="12" fill="#131722">0.00050</text>
<text x="1371.4" y="756.9" font-size="12" fill="#131722">0.00000</text>
<text x="1370.7" y="812.4" font-size="12" fill="#131722">−0.00050</text>
<g fill="#131722">
<path d="M8.8 791.1 H20.8 V805.9 H14.9 V797 H8.8 Z"/>
<circle cx="26.6" cy="793.7" r="2.6"/>
<path d="M30.9 791.1 H38.5 L33.5 805.9 H26.5 Z"/>
</g>
<text x="46" y="805.9" font-size="20.5" font-weight="bold" fill="#131722">TradingView</text>
<text x="83.5" y="838.6" font-size="12" font-weight="bold" text-anchor="middle" fill="#131722">Apr</text>
<text x="243" y="838.6" font-size="12" font-weight="bold" text-anchor="middle" fill="#131722">May</text>
<text x="407.7" y="838.6" font-size="12" font-weight="bold" text-anchor="middle" fill="#131722">Jun</text>
<text x="567" y="838.6" font-size="12" font-weight="bold" text-anchor="middle" fill="#131722">Jul</text>
<text x="731.7" y="838.6" font-size="12" font-weight="bold" text-anchor="middle" fill="#131722">Aug</text>
<text x="896" y="838.6" font-size="12" font-weight="bold" text-anchor="middle" fill="#131722">Sep</text>
<text x="1055" y="838.6" font-size="12" font-weight="bold" text-anchor="middle" fill="#131722">Oct</text>
<text x="1220" y="838.6" font-size="12" font-weight="bold" text-anchor="middle" fill="#131722">Nov</text>
<path d="M1394.3 829.2 H1401.8 L1405 835 L1401.8 840.8 H1394.3 L1391.1 835 Z" fill="none" stroke="#131722" stroke-width="1.1"/>
<circle cx="1398" cy="835" r="1.9" fill="none" stroke="#131722" stroke-width="1.1"/>
</svg></body></html>
